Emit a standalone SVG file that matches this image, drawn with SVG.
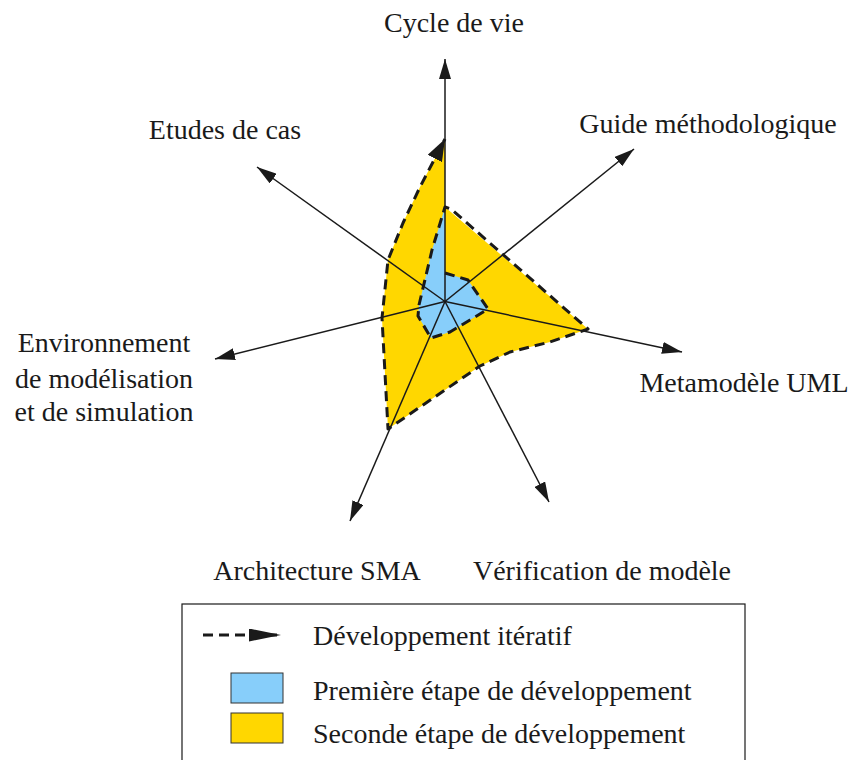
<svg xmlns="http://www.w3.org/2000/svg" width="852" height="760" viewBox="0 0 852 760" font-family="'Liberation Serif', 'Times New Roman', Times, serif">
<style>
  text { font-family: "Liberation Serif", "Times New Roman", Times, serif; }
  .lbl { font-size: 28px; fill: #1a1a1a; }
  .axis { stroke: #1a1a1a; stroke-width: 1.5; fill: none; }
  .dash { stroke: #1a1a1a; stroke-width: 3; stroke-dasharray: 10 6; fill: none; stroke-linejoin: round; }
  .blue { fill: #87CEFA; }
  .yellow { fill: #FFD700; }
</style>
<defs>
  <marker id="ah" markerUnits="userSpaceOnUse" markerWidth="22" markerHeight="12" refX="20" refY="6" orient="auto">
    <path d="M0,0 L20,6 L0,12 Z" fill="#1a1a1a"/>
  </marker>
  <marker id="ahBig" markerUnits="userSpaceOnUse" markerWidth="24" markerHeight="16" refX="22" refY="8" orient="auto">
    <path d="M0,0 L22,8 L0,16 Z" fill="#1a1a1a"/>
  </marker>
  <marker id="ahLeg" markerUnits="userSpaceOnUse" markerWidth="34" markerHeight="14" refX="32" refY="6.5" orient="auto">
    <path d="M0,0 L32,6.5 L0,13 Z" fill="#1a1a1a"/>
  </marker>
</defs>

<g id="areas">
  <polygon id="second-stage" class="yellow" points="445,139 445,207 588,329 550,342 510,352 480,366 388,429 382,318 388,260 403,223 420,187 433,162"/>
  <polygon id="first-stage" class="blue" points="445,207 445,273 468,280 488,309 470,320 450,332 431,338 418,316 419,305 432,250"/>
</g>

<g id="connectors">
  <line class="axis" x1="445" y1="301.5" x2="445" y2="59" marker-end="url(#ah)"/>
  <line class="axis" x1="445" y1="301.5" x2="634" y2="149" marker-end="url(#ah)"/>
  <line class="axis" x1="445" y1="301.5" x2="682" y2="352" marker-end="url(#ah)"/>
  <line class="axis" x1="445" y1="301.5" x2="549" y2="502" marker-end="url(#ah)"/>
  <line class="axis" x1="445" y1="301.5" x2="350" y2="521" marker-end="url(#ah)"/>
  <line class="axis" x1="445" y1="301.5" x2="215" y2="359" marker-end="url(#ah)"/>
  <line class="axis" x1="445" y1="301.5" x2="257" y2="167" marker-end="url(#ah)"/>
  <polyline id="iterative" class="dash" points="445,273 468,280 488,309 470,320 450,332 431,338 418,316 419,305 432,250 445,207 451,209 588,329 550,342 510,352 480,366 388,429 382,318 388,260 403,223 420,187 433,162 445,139" marker-end="url(#ahBig)"/>
</g>

<g id="n-cycle"><text class="lbl" x="454" y="32" text-anchor="middle">Cycle de vie</text></g>
<g id="n-guide"><text class="lbl" x="708" y="133" text-anchor="middle">Guide méthodologique</text></g>
<g id="n-meta"><text class="lbl" x="744" y="392" text-anchor="middle">Metamodèle UML</text></g>
<g id="n-verif"><text class="lbl" x="602" y="580" text-anchor="middle">Vérification de modèle</text></g>
<g id="n-archi"><text class="lbl" x="317" y="580" text-anchor="middle">Architecture SMA</text></g>
<g id="n-env">
  <text class="lbl" x="104" y="352" text-anchor="middle">Environnement</text>
  <text class="lbl" x="104" y="388" text-anchor="middle">de modélisation</text>
  <text class="lbl" x="104" y="421" text-anchor="middle">et de simulation</text>
</g>
<g id="n-etudes"><text class="lbl" x="225" y="139" text-anchor="middle">Etudes de cas</text></g>

<g id="legend">
  <rect x="182" y="604" width="563" height="170" fill="none" stroke="#1a1a1a" stroke-width="1.2"/>
  <line class="dash" x1="203" y1="635" x2="281" y2="635" stroke-width="2.5" marker-end="url(#ahLeg)"/>
  <text class="lbl" x="313" y="645">Développement itératif</text>
  <rect class="blue" x="231" y="673" width="52" height="30" stroke="#333" stroke-width="1"/>
  <text class="lbl" x="313" y="700">Première étape de développement</text>
  <rect class="yellow" x="231" y="713" width="52" height="30" stroke="#333" stroke-width="1"/>
  <text class="lbl" x="313" y="743">Seconde étape de développement</text>
</g>
</svg>
